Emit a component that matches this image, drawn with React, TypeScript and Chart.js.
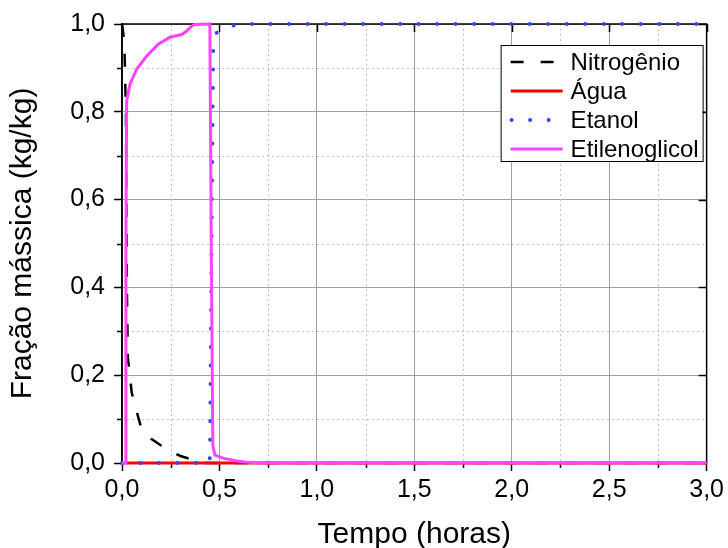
import React, { useEffect, useRef } from 'react';
import { Chart, registerables } from 'chart.js';

Chart.register(...registerables);

// ---------------- data ----------------
const seriesLabels = ['Nitrogênio', 'Água', 'Etanol', 'Etilenoglicol'];
const seriesColors = ['#000000', '#ff0000', '#3344ff', '#ff44ff'];

const nitrogenioT = [0, 0.012, 0.02, 0.025, 0.03, 0.04, 0.05, 0.067, 0.1, 0.15, 0.2, 0.25, 0.3, 0.35, 0.4, 3.0];
const nitrogenioY = [1.0, 0.96, 0.8, 0.4, 0.24, 0.2, 0.16, 0.13, 0.078, 0.055, 0.04, 0.026, 0.016, 0.009, 0.0, 0.0];

const aguaT = [0, 3.0];
const aguaY = [0, 0];

const etanolT = [0, 0.45, 0.452, 0.458, 0.465, 0.468, 0.486, 0.53, 0.58, 0.65, 3.0];
const etanolY = [0, 0, 0.05, 0.4, 0.8, 0.94, 0.98, 0.99, 0.998, 1.0, 1.0];

const etilenoglicolT = [0, 0.017, 0.02, 0.024, 0.041, 0.075, 0.127, 0.186, 0.246, 0.306, 0.332, 0.357, 0.374, 0.451, 0.458, 0.466, 0.477, 0.518, 0.59, 0.64, 0.71, 3.0];
const etilenoglicolY = [0, 0, 0.5, 0.825, 0.863, 0.897, 0.927, 0.954, 0.97, 0.976, 0.984, 0.995, 0.999, 1.0, 0.5, 0.04, 0.018, 0.011, 0.0045, 0.002, 0.0, 0.0];

const xTicks = [0, 0.5, 1.0, 1.5, 2.0, 2.5, 3.0];
const yTicks = [0, 0.2, 0.4, 0.6, 0.8, 1.0];
const xMinor = [0.25, 0.75, 1.25, 1.75, 2.25, 2.75];
const yMinor = [0.1, 0.3, 0.5, 0.7, 0.9];

const xTitle = 'Tempo (horas)';
const yTitle = 'Fração mássica (kg/kg)';

const FONT = '"Liberation Sans", Arial, Helvetica, sans-serif';

const fmt = (v: number) => v.toFixed(1).replace('.', ',');
const pts = (t: number[], y: number[]) => t.map((v, i) => ({ x: v, y: y[i] }));

const decorPlugin = {
  id: 'decor',
  beforeDatasetsDraw(chart: any) {
    const { ctx, chartArea: a, scales } = chart;
    const x = scales.x;
    const y = scales.y;
    ctx.save();
    // minor dotted grid
    ctx.strokeStyle = '#c4c4c4';
    ctx.lineWidth = 1;
    ctx.setLineDash([2, 3]);
    ctx.beginPath();
    xMinor.forEach((v) => {
      const px = Math.round(x.getPixelForValue(v)) + 0.5;
      ctx.moveTo(px, a.top);
      ctx.lineTo(px, a.bottom);
    });
    yMinor.forEach((v) => {
      const py = Math.round(y.getPixelForValue(v)) + 0.5;
      ctx.moveTo(a.left, py);
      ctx.lineTo(a.right, py);
    });
    ctx.stroke();
    ctx.setLineDash([]);
    // frame
    ctx.strokeStyle = '#000';
    ctx.lineWidth = 1.5;
    ctx.strokeRect(a.left, a.top, a.right - a.left, a.bottom - a.top);
    // minor ticks outward
    ctx.lineWidth = 1.5;
    ctx.beginPath();
    xMinor.forEach((v) => {
      const px = Math.round(x.getPixelForValue(v)) + 0.5;
      ctx.moveTo(px, a.bottom);
      ctx.lineTo(px, a.bottom + 5);
    });
    yMinor.forEach((v) => {
      const py = Math.round(y.getPixelForValue(v)) + 0.5;
      ctx.moveTo(a.left, py);
      ctx.lineTo(a.left - 5, py);
    });
    // major ticks inward on top and right
    xTicks.forEach((v) => {
      const px = Math.round(x.getPixelForValue(v)) + 0.5;
      ctx.moveTo(px, a.top);
      ctx.lineTo(px, a.top + 8);
    });
    yTicks.forEach((v) => {
      const py = Math.round(y.getPixelForValue(v)) + 0.5;
      ctx.moveTo(a.right, py);
      ctx.lineTo(a.right - 8, py);
    });
    ctx.stroke();
    ctx.restore();
  },
  afterDraw(chart: any) {
    const { ctx, chartArea: a } = chart;
    const ds = chart.data.datasets;
    ctx.save();
    const bw = 202;
    const bh = 116;
    const bx = a.right - 4 - bw;
    const by = a.top + 21;
    ctx.fillStyle = '#fff';
    ctx.fillRect(bx, by, bw, bh);
    ctx.strokeStyle = '#000';
    ctx.lineWidth = 1;
    ctx.strokeRect(bx + 0.5, by + 0.5, bw, bh);
    ctx.font = `24px ${FONT}`;
    ctx.textBaseline = 'middle';
    ctx.textAlign = 'left';
    ds.forEach((d: any, i: number) => {
      const cy = by + 17 + i * 29;
      ctx.save();
      ctx.strokeStyle = d.borderColor;
      ctx.lineWidth = d.borderWidth;
      ctx.lineCap = d.borderCapStyle || 'butt';
      ctx.setLineDash(d.borderDash || []);
      ctx.beginPath();
      const x0 = d.borderCapStyle === 'round' ? bx + 11 : bx + 10;
      ctx.moveTo(x0, cy);
      ctx.lineTo(bx + 62, cy);
      ctx.stroke();
      ctx.restore();
      ctx.fillStyle = '#000';
      ctx.fillText(d.label, bx + 70, cy + 1);
    });
    ctx.restore();
  },
};

export default function App() {
  const ref = useRef<HTMLCanvasElement | null>(null);

  useEffect(() => {
    if (!ref.current) return;
    const chart = new Chart(ref.current, {
      type: 'line',
      data: {
        datasets: [
          {
            label: seriesLabels[0],
            data: pts(nitrogenioT, nitrogenioY),
            borderColor: seriesColors[0],
            borderWidth: 2.5,
            borderDash: [13, 17],
            pointRadius: 0,
            order: 3,
            clip: 5,
          },
          {
            label: seriesLabels[1],
            data: pts(aguaT, aguaY),
            borderColor: seriesColors[1],
            borderWidth: 3,
            pointRadius: 0,
            order: 2,
            clip: 5,
          },
          {
            label: seriesLabels[2],
            data: pts(etanolT, etanolY),
            borderColor: seriesColors[2],
            borderWidth: 4,
            borderDash: [0.01, 18.5],
            borderCapStyle: 'round',
            pointRadius: 0,
            order: 1,
            clip: 5,
          },
          {
            label: seriesLabels[3],
            data: pts(etilenoglicolT, etilenoglicolY),
            borderColor: seriesColors[3],
            borderWidth: 3,
            pointRadius: 0,
            order: 0,
            clip: 5,
          },
        ] as any,
      },
      options: {
        animation: false,
        responsive: false,
        maintainAspectRatio: false,
        parsing: true as any,
        layout: { padding: { left: 0, top: 23, right: 21, bottom: 0 } },
        plugins: {
          legend: { display: false },
          tooltip: { enabled: false },
        },
        elements: { line: { tension: 0 } },
        scales: {
          x: {
            type: 'linear',
            min: 0,
            max: 3,
            afterBuildTicks: (s: any) => {
              s.ticks = xTicks.map((v) => ({ value: v }));
            },
            afterFit: (s: any) => {
              s.height = 85;
            },
            ticks: {
              callback: (v: any) => fmt(Number(v)),
              color: '#000',
              font: { family: FONT, size: 25 },
              padding: 4,
              maxRotation: 0,
              autoSkip: false,
            },
            grid: {
              color: '#a0a0a0',
              lineWidth: 1,
              tickColor: '#000',
              tickLength: 8,
              tickWidth: 1.5,
            },
            border: { display: true, color: '#000', width: 1.5 },
            title: {
              display: true,
              text: xTitle,
              color: '#000',
              font: { family: FONT, size: 30, lineHeight: 0.9 },
              padding: { top: 0, bottom: 0 },
            },
          },
          y: {
            type: 'linear',
            min: 0,
            max: 1,
            afterBuildTicks: (s: any) => {
              s.ticks = yTicks.map((v) => ({ value: v }));
            },
            afterFit: (s: any) => {
              s.width = 122;
            },
            ticks: {
              callback: (v: any) => fmt(Number(v)),
              color: '#000',
              font: { family: FONT, size: 25 },
              padding: 9,
              autoSkip: false,
            },
            grid: {
              color: '#a0a0a0',
              lineWidth: 1,
              tickColor: '#000',
              tickLength: 8,
              tickWidth: 1.5,
            },
            border: { display: true, color: '#000', width: 1.5 },
            title: {
              display: true,
              text: yTitle,
              color: '#000',
              font: { family: FONT, size: 30, lineHeight: 1.2 },
              padding: { top: 5, bottom: 0 },
            },
          },
        },
      } as any,
      plugins: [decorPlugin as any],
    });
    return () => chart.destroy();
  }, []);

  return (
    <div style={{ position: 'fixed', left: 0, top: 0, width: 728, height: 548, background: '#fff' }}>
      <canvas ref={ref} width={728} height={548} style={{ display: 'block', width: 728, height: 548 }} />
    </div>
  );
}
